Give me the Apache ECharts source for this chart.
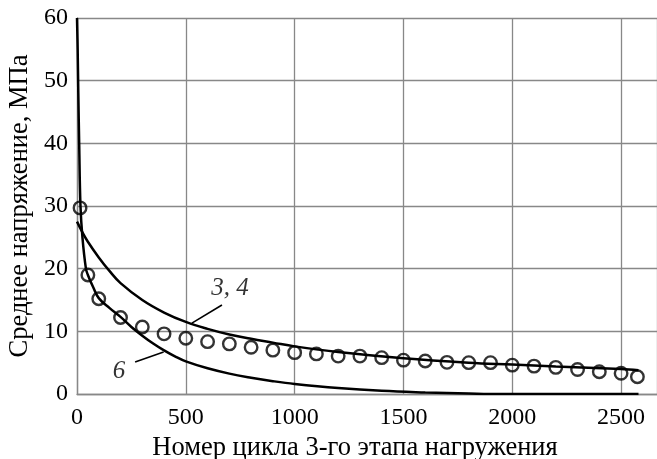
<!DOCTYPE html>
<html>
<head>
<meta charset="utf-8">
<script src="https://cdn.jsdelivr.net/npm/echarts@6/dist/echarts.min.js"></script>
<style>
html,body{margin:0;padding:0;background:#fff;}
#c{width:657px;height:459px;}
</style>
</head>
<body>
<div id="c"></div>
<script>
// Experimental points (circles)
const circleX = [14, 50, 100, 200, 300, 400, 500, 600, 700, 800, 900, 1000, 1100, 1200, 1300, 1400, 1500, 1600, 1700, 1800, 1900, 2000, 2100, 2200, 2300, 2400, 2500, 2575];
const circleY = [29.7, 19.0, 15.2, 12.2, 10.7, 9.6, 8.9, 8.35, 8.0, 7.45, 7.0, 6.6, 6.4, 6.05, 6.05, 5.8, 5.4, 5.27, 5.05, 5.0, 5.0, 4.6, 4.45, 4.25, 3.9, 3.55, 3.3, 2.75];

// Curve "3, 4"
const curve34X = [0, 25, 50, 100, 150, 200, 300, 400, 500, 600, 700, 800, 900, 1000, 1200, 1500, 1800, 2000, 2200, 2500, 2580];
const curve34Y = [27.5, 25.8, 24.3, 21.8, 19.6, 17.7, 15.0, 13.0, 11.5, 10.4, 9.5, 8.8, 8.2, 7.6, 6.7, 5.7, 5.0, 4.7, 4.4, 4.0, 3.8];

// Curve "6"
const curve6X = [0, 3, 6, 10, 16, 25, 41, 50, 75, 100, 150, 200, 250, 300, 350, 400, 450, 500, 600, 700, 800, 900, 1000, 1200, 1400, 1600, 1800, 1950, 2580];
const curve6Y = [60, 55, 48, 40, 30, 25, 20, 19, 17, 15.3, 13.7, 12.3, 10.7, 9.3, 8.05, 6.95, 6.0, 5.2, 4.1, 3.25, 2.6, 2.05, 1.6, 0.95, 0.5, 0.25, 0.08, 0, 0];

// Axis ticks
const xTicks = [0, 500, 1000, 1500, 2000, 2500];
const yTicks = [0, 10, 20, 30, 40, 50, 60];
const xTitle = 'Номер цикла 3-го этапа нагружения';
const yTitle = 'Среднее напряжение, МПа';

// Annotations
const annText = ['3, 4', '6'];
const annPos = [[703, 16.9], [193, 3.6]];
const leader34 = [[528, 11.3], [666, 14.2]];
const leader6 = [[267, 5.1], [398, 6.7]];

const zip = (a, b) => a.map((v, i) => [v, b[i]]);
const FONT = '"Liberation Serif", "Times New Roman", serif';

const chart = echarts.init(document.getElementById('c'), null, {renderer: 'canvas'});
chart.setOption({
  animation: false,
  backgroundColor: '#fff',
  grid: {left: 77, right: 0, top: 18, bottom: 65, containLabel: false, outerBoundsMode: 'none'},
  xAxis: {
    type: 'value', min: xTicks[0], max: 2665, interval: 500,
    name: xTitle, nameLocation: 'middle', nameGap: 38,
    nameTextStyle: {fontFamily: FONT, fontSize: 26.5, color: '#000', padding: [0, 24, 0, 0]},
    axisLine: {show: true, lineStyle: {color: '#888', width: 1.3}},
    axisTick: {show: false},
    axisLabel: {fontFamily: FONT, fontSize: 24, color: '#000', margin: 12, showMaxLabel: false,
      formatter: v => String(v)},
    splitLine: {show: true, lineStyle: {color: '#888', width: 1.3}}
  },
  yAxis: {
    type: 'value', min: yTicks[0], max: yTicks[yTicks.length - 1], interval: 10,
    name: yTitle, nameLocation: 'middle', nameGap: 37, nameRotate: 90,
    nameTextStyle: {fontFamily: FONT, fontSize: 26.5, color: '#000'},
    axisLine: {show: true, lineStyle: {color: '#888', width: 1.3}},
    axisTick: {show: false},
    axisLabel: {fontFamily: FONT, fontSize: 24, color: '#000', margin: 9, formatter: v => String(v)},
    splitLine: {show: true, lineStyle: {color: '#888', width: 1.3}}
  },
  series: [
    {
      type: 'line', data: zip(curve6X, curve6Y), showSymbol: false, symbol: 'none',
      smooth: 0.4,
      lineStyle: {color: '#000', width: 2.5}, z: 3
    },
    {
      type: 'line', data: zip(curve34X, curve34Y), showSymbol: false, symbol: 'none',
      smooth: 0.4,
      lineStyle: {color: '#000', width: 2.5}, z: 3
    },
    {
      type: 'scatter', data: zip(circleX, circleY), symbol: 'circle', symbolSize: 12.5,
      itemStyle: {color: 'rgba(255,255,255,0)', borderColor: '#000', borderWidth: 2.4}, z: 4
    },
    {
      type: 'line', data: leader34, symbol: 'none', lineStyle: {color: '#000', width: 1.6}, silent: true
    },
    {
      type: 'line', data: leader6, symbol: 'none', lineStyle: {color: '#000', width: 1.6}, silent: true
    },
    {
      type: 'scatter', symbolSize: 0, silent: true,
      data: annPos.map((p, i) => ({value: p, label: {formatter: annText[i]}})),
      label: {show: true, position: 'inside', fontFamily: FONT, fontStyle: 'italic', fontSize: 25, color: '#000'}
    }
  ]
});
</script>
</body>
</html>
